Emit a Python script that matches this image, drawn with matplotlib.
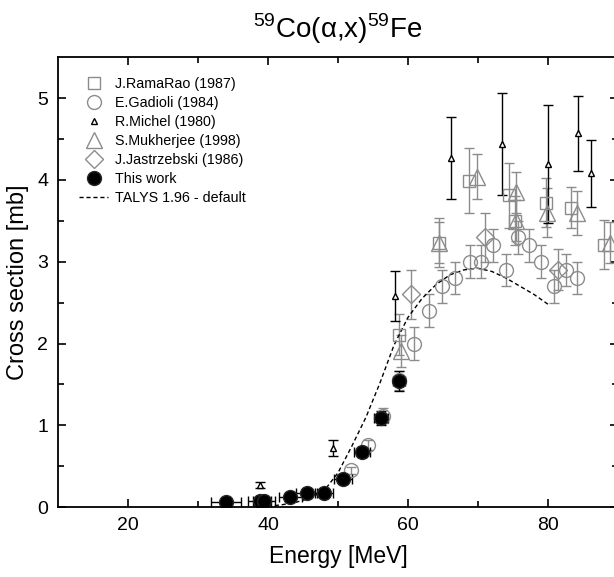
import numpy as np
import matplotlib
matplotlib.use('Agg')
import matplotlib.pyplot as plt
from matplotlib.lines import Line2D
from matplotlib.transforms import offset_copy

plt.rcParams['font.family'] = ['Liberation Sans', 'DejaVu Sans']
plt.rcParams['mathtext.fontset'] = 'custom'
plt.rcParams['mathtext.rm'] = 'Liberation Sans'

# J.RamaRao (1987)
rr_e = [58.7, 64.4, 68.7, 74.4, 75.3, 79.7, 83.3, 88.0]
rr_s = [2.11, 3.23, 3.99, 3.81, 3.50, 3.72, 3.66, 3.21]
rr_d = [0.25, 0.30, 0.40, 0.40, 0.30, 0.30, 0.25, 0.30]

# E.Gadioli (1984)
ga_e = [51.8, 54.3, 56.4, 58.7, 60.9, 63.0, 64.9, 66.7, 68.8, 70.5, 72.2, 74.0, 75.7, 77.3, 79.0, 80.8, 82.6, 84.1]
ga_s = [0.45, 0.76, 1.12, 1.55, 2.00, 2.40, 2.70, 2.80, 3.00, 3.00, 3.20, 2.90, 3.30, 3.20, 3.00, 2.70, 2.90, 2.80]
ga_d = [0.04, 0.06, 0.09, 0.12, 0.20, 0.20, 0.20, 0.20, 0.20, 0.20, 0.20, 0.20, 0.20, 0.20, 0.20, 0.20, 0.20, 0.20]

# R.Michel (1980)
mi_e = [38.9, 49.3, 58.1, 66.1, 73.4, 80.0, 84.3, 86.2]
mi_s = [0.27, 0.72, 2.58, 4.27, 4.44, 4.19, 4.57, 4.08]
mi_d = [0.04, 0.10, 0.31, 0.50, 0.62, 0.72, 0.46, 0.41]

# S.Mukherjee (1998)
mu_e = [59.0, 64.4, 69.8, 75.4, 75.5, 79.9, 84.1, 88.9]
mu_s = [1.91, 3.23, 4.04, 3.85, 3.50, 3.60, 3.60, 3.23]
mu_d = [0.20, 0.25, 0.27, 0.25, 0.25, 0.30, 0.27, 0.25]

# J.Jastrzebski (1986)
ja_e = [60.4, 71.0, 81.4]
ja_s = [2.60, 3.30, 2.90]
ja_d = [0.30, 0.30, 0.25]

# This work
tw_e = [34.0, 38.8, 39.4, 43.2, 45.5, 48.0, 50.7, 53.4, 56.2, 58.7]
tw_de = [2.2, 1.6, 1.6, 1.6, 1.5, 1.3, 1.3, 1.1, 1.0, 0.8]
tw_s = [0.06, 0.08, 0.08, 0.13, 0.17, 0.17, 0.34, 0.67, 1.09, 1.54]
tw_ds = [0.01, 0.01, 0.01, 0.02, 0.02, 0.02, 0.04, 0.06, 0.08, 0.12]

# TALYS 1.96 - default
ta_e = [38, 40, 42, 44, 46, 48, 50, 52, 54, 56, 58, 60, 62, 64, 66, 68, 70, 72, 74, 76, 78, 80]
ta_s = [0.0, 0.01, 0.03, 0.06, 0.11, 0.2, 0.42, 0.75, 1.1, 1.52, 1.98, 2.32, 2.55, 2.72, 2.84, 2.9, 2.92, 2.88, 2.8, 2.7, 2.6, 2.48]

gray = '0.55'

fig = plt.figure(figsize=(6.14, 5.77), dpi=100)
ax = fig.add_axes([0.0945, 0.121, 0.912, 0.780])

eb = dict(ls='none', capsize=3.5, elinewidth=1.0, capthick=1.0)
ax.errorbar(rr_e, rr_s, yerr=rr_d, marker='s', ms=9, mfc='none', mec=gray, ecolor=gray, mew=1.0, **eb)
ax.errorbar(ga_e, ga_s, yerr=ga_d, marker='o', ms=10, mfc='none', mec=gray, ecolor=gray, mew=1.0, **eb)
ax.errorbar(mu_e, mu_s, yerr=mu_d, marker='^', ms=11, mfc='none', mec=gray, ecolor=gray, mew=1.0, **eb)
ax.errorbar(ja_e, ja_s, yerr=ja_d, marker='D', ms=9, mfc='none', mec=gray, ecolor=gray, mew=1.0, **eb)
ax.errorbar(mi_e, mi_s, yerr=mi_d, marker='^', ms=5, mfc='white', mec='black', ecolor='black', mew=1.0, **eb)

ax.plot(ta_e, ta_s, ls=(0, (3, 2)), color='black', lw=1.0)

# spheres: black ball + small offset highlight
ax.errorbar(tw_e, tw_s, xerr=tw_de, yerr=tw_ds, marker='o', ms=10, mfc='black', mec='0.15',
            ecolor='black', **eb)
hl = offset_copy(ax.transData, fig=fig, x=-1.5, y=1.5, units='dots')
ax.plot(tw_e, tw_s, 'o', ms=5, color='0.45', mec='none', transform=hl)
hl2 = offset_copy(ax.transData, fig=fig, x=-2, y=2.5, units='dots')
ax.plot(tw_e, tw_s, 'o', ms=2.5, color='0.9', mec='none', transform=hl2)

ax.set_xlim(10, 90)
ax.set_ylim(0, 5.5)
ax.set_xticks([20, 40, 60, 80])
ax.set_xticks([30, 50, 70], minor=True)
ax.set_yticks([0, 1, 2, 3, 4, 5])
ax.set_yticks([0.5, 1.5, 2.5, 3.5, 4.5], minor=True)
ax.tick_params(which='both', direction='in', top=True, right=True, width=1.2, labelsize=14, pad=7)
ax.tick_params(which='major', length=6)
ax.tick_params(which='minor', length=4)
for s in ax.spines.values():
    s.set_linewidth(1.3)

ax.set_xlabel('Energy [MeV]', fontsize=16.5, labelpad=8)
ax.set_ylabel('Cross section [mb]', fontsize=17, labelpad=6)
ax.set_title('$^{59}$Co(α,x)$^{59}$Fe', fontsize=20, pad=14)

handles = [
    Line2D([], [], ls='none', marker='s', ms=9, mfc='none', mec=gray),
    Line2D([], [], ls='none', marker='o', ms=10, mfc='none', mec=gray),
    Line2D([], [], ls='none', marker='^', ms=5, mfc='white', mec='black'),
    Line2D([], [], ls='none', marker='^', ms=11, mfc='none', mec=gray),
    Line2D([], [], ls='none', marker='D', ms=9, mfc='none', mec=gray),
    Line2D([], [], ls='none', marker='o', ms=10, mfc='black', mec='0.15'),
    Line2D([], [], ls=(0, (3, 2)), color='black', lw=1.0),
]
labels = ['J.RamaRao (1987)', 'E.Gadioli (1984)', 'R.Michel (1980)', 'S.Mukherjee (1998)',
          'J.Jastrzebski (1986)', 'This work', 'TALYS 1.96 - default']
ax.legend(handles, labels, loc='upper left', bbox_to_anchor=(0.02, 0.978), frameon=False,
          fontsize=10.3, handlelength=2.0, handletextpad=0.5, labelspacing=0.35, borderaxespad=0.3)

fig.savefig('out.png', dpi=100)
